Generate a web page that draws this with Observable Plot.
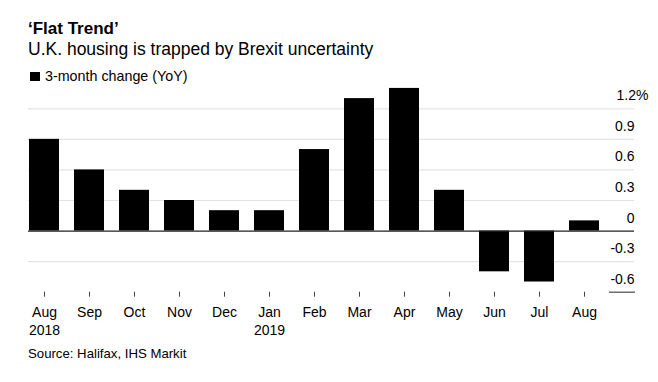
<!DOCTYPE html>
<html><head><meta charset="utf-8">
<script src="https://cdn.jsdelivr.net/npm/d3@7"></script>
<script src="https://cdn.jsdelivr.net/npm/@observablehq/plot@0.6"></script>
<style>
body{margin:0;background:#fff;font-family:"Liberation Sans",Arial,sans-serif;color:#000;}
#wrap{width:658px;}
#head{position:relative;height:84px;}
#head div{position:absolute;line-height:1;white-space:nowrap;}
#foot{position:relative;height:36px;}
#foot div{position:absolute;line-height:1;white-space:nowrap;}
#chart svg{display:block;overflow:visible;}
</style></head><body>
<div id="wrap">
  <div id="head">
    <div id="title" style="left:28px;top:20px;font-size:17px;font-weight:bold"></div>
    <div id="subtitle" style="left:28px;top:41.2px;font-size:17.5px"></div>
    <div id="swatch" style="left:30px;top:72px;width:10px;height:9px;background:#000"></div>
    <div id="legend" style="left:45px;top:68.9px;font-size:14.3px"></div>
  </div>
  <div id="chart"></div>
  <div id="foot"><div id="source" style="left:28px;top:1.1px;font-size:13.2px"></div></div>
</div>
<script>
const title = "\u2018Flat Trend\u2019";
const subtitle = "U.K. housing is trapped by Brexit uncertainty";
const seriesName = "3-month change (YoY)";
const source = "Source: Halifax, IHS Markit";
const months = ["Aug\n2018","Sep","Oct","Nov","Dec","Jan\n2019","Feb","Mar","Apr","May","Jun","Jul","Aug"];
const change = [0.9,0.6,0.4,0.3,0.2,0.2,0.8,1.3,1.4,0.4,-0.4,-0.5,0.1];
const yTicks = [-0.6,-0.3,0,0.3,0.6,0.9,1.2];

document.getElementById("title").textContent = title;
document.getElementById("subtitle").textContent = subtitle;
document.getElementById("legend").textContent = seriesName;
document.getElementById("source").textContent = source;

const data = months.map((m,i)=>({month:m, value:change[i]}));
const fmt = d => d === 0 ? "0" : d.toFixed(1);
const topTick = yTicks[yTicks.length-1];
const lowTick = yTicks[0];

const chart = Plot.plot({
  width: 658,
  height: 262,
  marginLeft: 28,
  marginRight: 24,
  marginTop: 0,
  marginBottom: 54.3,
  style: {fontFamily: "'Liberation Sans', Arial, sans-serif", fontSize: "14px", color: "#000", background: "#fff", overflow: "visible"},
  x: {domain: months, range: [28, 600.3], paddingInner: 0.325, paddingOuter: 0, label: null},
  y: {domain: [lowTick, topTick], range: [207.7, 24.3], label: null},
  marks: [
    Plot.gridY(yTicks.filter(d => d !== 0 && d !== lowTick), {stroke: "#e3e3e3", strokeOpacity: 1, strokeWidth: 1.2}),
    Plot.barY(data, {x: "month", y: "value", fill: "#000"}),
    Plot.ruleY([0], {stroke: "#222", strokeWidth: 1.2}),
    Plot.axisY([lowTick], {anchor: "right", tickSize: -26, tickFormat: () => "", stroke: "#555", strokeWidth: 1.3, label: null}),
    Plot.axisY(yTicks.filter(d => d !== topTick), {anchor: "right", tickSize: 0, tickPadding: 0, textAnchor: "end", lineAnchor: "bottom", dy: -8.5, fontSize: 14, tickFormat: fmt, label: null, fill: "#000"}),
    Plot.axisY([topTick], {anchor: "right", tickSize: 0, tickPadding: 0, textAnchor: "start", dx: -18, lineAnchor: "bottom", dy: -8.5, fontSize: 14, tickFormat: d => d.toFixed(1) + "%", label: null, fill: "#000"}),
    Plot.axisX({anchor: "bottom", tickSize: 5, tickPadding: 7, fontSize: 14, lineHeight: 1.3, stroke: "#444", fill: "#000", label: null})
  ]
});
document.getElementById("chart").appendChild(chart);
</script>
</body></html>
